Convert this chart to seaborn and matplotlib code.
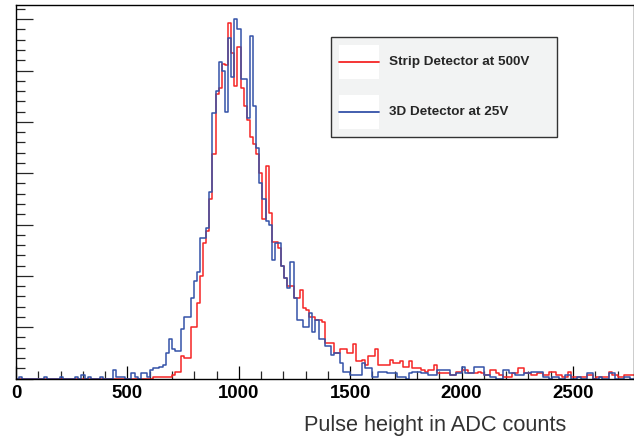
import numpy as np
import pandas as pd
import matplotlib
matplotlib.use("Agg")
import matplotlib.pyplot as plt
from matplotlib.lines import Line2D
from matplotlib.patches import Rectangle
from matplotlib.legend_handler import HandlerBase
from matplotlib.ticker import MultipleLocator, NullFormatter
import seaborn as sns

# histogram contents, bin width 14 ADC counts starting at 0
bin_width = 14
strip_counts = [
    0, 0, 0, 0, 0, 0, 0, 0, 0, 0, 0, 0, 0, 0, 0, 0, 0, 0, 0, 0,
    0, 0, 0, 0, 0, 0, 0, 0, 0, 0, 0, 0, 0, 0, 0, 0, 0, 0, 0, 0,
    0, 0, 0, 0, 1, 1, 1, 1, 1, 1, 2, 4, 4, 13, 12, 12, 30, 30, 44, 60,
    79, 86, 105, 131, 166, 170, 184, 183, 208, 190, 171, 194, 170, 159, 151, 141, 137, 131, 120, 93,
    124, 97, 80, 80, 76, 66, 59, 54, 54, 47, 47, 52, 41, 40, 36, 36, 34, 34, 33, 21,
    21, 21, 15, 15, 17, 17, 15, 15, 20, 10, 10, 11, 8, 13, 13, 17, 8, 8, 8, 8,
    11, 9, 9, 10, 7, 7, 10, 6, 6, 6, 5, 4, 5, 5, 8, 3, 3, 3, 3, 2,
    2, 4, 4, 5, 5, 3, 3, 3, 4, 3, 2, 2, 5, 5, 3, 2, 1, 1, 1, 3,
    3, 6, 6, 3, 3, 2, 2, 3, 3, 2, 2, 4, 4, 2, 2, 1, 1, 4, 1, 1,
    1, 1, 1, 2, 2, 0, 1, 1, 1, 1, 4, 2, 2, 1, 1, 2, 2, 2, 2,
]
td_counts = [
    0, 1, 0, 0, 0, 0, 0, 0, 0, 1, 0, 0, 0, 0, 1, 0, 0, 0, 0, 1,
    0, 2, 0, 1, 0, 0, 0, 1, 0, 0, 0, 5, 1, 1, 1, 0, 0, 3, 1, 0,
    3, 3, 1, 5, 6, 6, 7, 8, 15, 23, 17, 16, 16, 29, 36, 36, 47, 57, 62, 82,
    82, 88, 109, 155, 168, 185, 180, 156, 199, 176, 210, 204, 175, 175, 152, 200, 159, 135, 114, 105,
    92, 90, 69, 79, 79, 66, 59, 53, 68, 47, 34, 34, 30, 30, 38, 27, 34, 23, 23, 19,
    19, 14, 15, 15, 9, 4, 4, 2, 2, 2, 2, 9, 6, 6, 1, 1, 4, 4, 4, 3,
    3, 3, 1, 1, 1, 0, 3, 4, 4, 4, 3, 3, 2, 2, 2, 5, 5, 5, 5, 2,
    2, 3, 3, 7, 3, 3, 3, 7, 7, 7, 2, 2, 1, 1, 0, 0, 5, 5, 3, 3,
    2, 2, 2, 3, 3, 4, 4, 4, 4, 1, 1, 0, 1, 1, 0, 0, 2, 2, 0, 0,
    1, 0, 0, 3, 3, 0, 0, 1, 0, 0, 3, 3, 0, 0, 0, 1, 1, 0, 0,
]
series_labels = ["Strip Detector at 500V", "3D Detector at 25V"]
x_ticks = [0, 500, 1000, 1500, 2000, 2500]
x_tick_labels = ["0", "500", "1000", "1500", "2000", "2500"]

edges = [i * bin_width for i in range(len(strip_counts) + 1)]
df = pd.DataFrame({"adc": np.array(edges[:-1]) + bin_width / 2,
                   "strip": strip_counts, "td": td_counts})

red = "#f52525"
blue = "#3452a8"


class BoxLine(HandlerBase):
    # ROOT-like legend entry: white box with the line across its middle
    def create_artists(self, legend, orig, xd, yd, width, height, fontsize, trans):
        rect = Rectangle((-xd, -yd), width, height, facecolor="white",
                         edgecolor="none", transform=trans)
        y = -yd + height / 2
        ln = Line2D([-xd, -xd + width], [y, y], color=orig.get_color(),
                    linewidth=1.3, transform=trans)
        return [rect, ln]


sns.set_style("ticks")
plt.rcParams["font.family"] = ["Liberation Sans", "DejaVu Sans"]

fig = plt.figure(figsize=(6.34, 4.37), dpi=100)
W, H = 634, 437
ax = fig.add_axes([16 / W, (H - 378.5) / H, 618 / W, (378.5 - 5) / H])

sns.histplot(data=df, x="adc", weights="strip", bins=edges, element="step",
             fill=False, color=red, linewidth=1.1, ax=ax)
sns.histplot(data=df, x="adc", weights="td", bins=edges, element="step",
             fill=False, color=blue, linewidth=1.1, ax=ax)

ax.set_xlim(0, 2774)
ax.set_ylim(0, 218.3)
ax.set_xlabel("")
ax.set_ylabel("")

ax.set_xticks(x_ticks, labels=x_tick_labels, fontweight="bold")
ax.xaxis.set_minor_locator(MultipleLocator(100))
ax.yaxis.set_major_locator(MultipleLocator(30))
ax.yaxis.set_minor_locator(MultipleLocator(6))
ax.yaxis.set_major_formatter(NullFormatter())

ax.tick_params(axis="x", which="major", direction="in", length=9.4, width=0.9,
               labelsize=13.4, pad=4.5, colors="black")
ax.tick_params(axis="x", which="minor", direction="in", length=5.8, width=0.9)
ax.tick_params(axis="y", which="major", direction="in", length=12.2, width=0.9)
ax.tick_params(axis="y", which="minor", direction="in", length=6.5, width=0.9)

for s in ax.spines.values():
    s.set_color("black")
    s.set_linewidth(1.0)

fig.text(566.7 / W, 1 - 431 / H, "Pulse height in ADC counts", ha="right",
         va="baseline", fontsize=15.7, color="#333333")

handles = [Line2D([], [], color=c) for c in [red, blue]]
leg = ax.legend(handles, series_labels, handler_map={Line2D: BoxLine()},
                loc="upper left", bbox_to_anchor=(331 / W, 1 - 41 / H, 226 / W, 0.01),
                bbox_transform=fig.transFigure, mode="expand", fancybox=False,
                framealpha=1, facecolor="#f2f3f3", edgecolor="#333333",
                prop={"weight": "bold", "size": 9.7}, handlelength=2.95, handleheight=3.5,
                handletextpad=0.74, labelspacing=1.19, borderpad=0.6, borderaxespad=0)
leg.get_frame().set_linewidth(1.0)

fig.savefig("out.png", dpi=100)
